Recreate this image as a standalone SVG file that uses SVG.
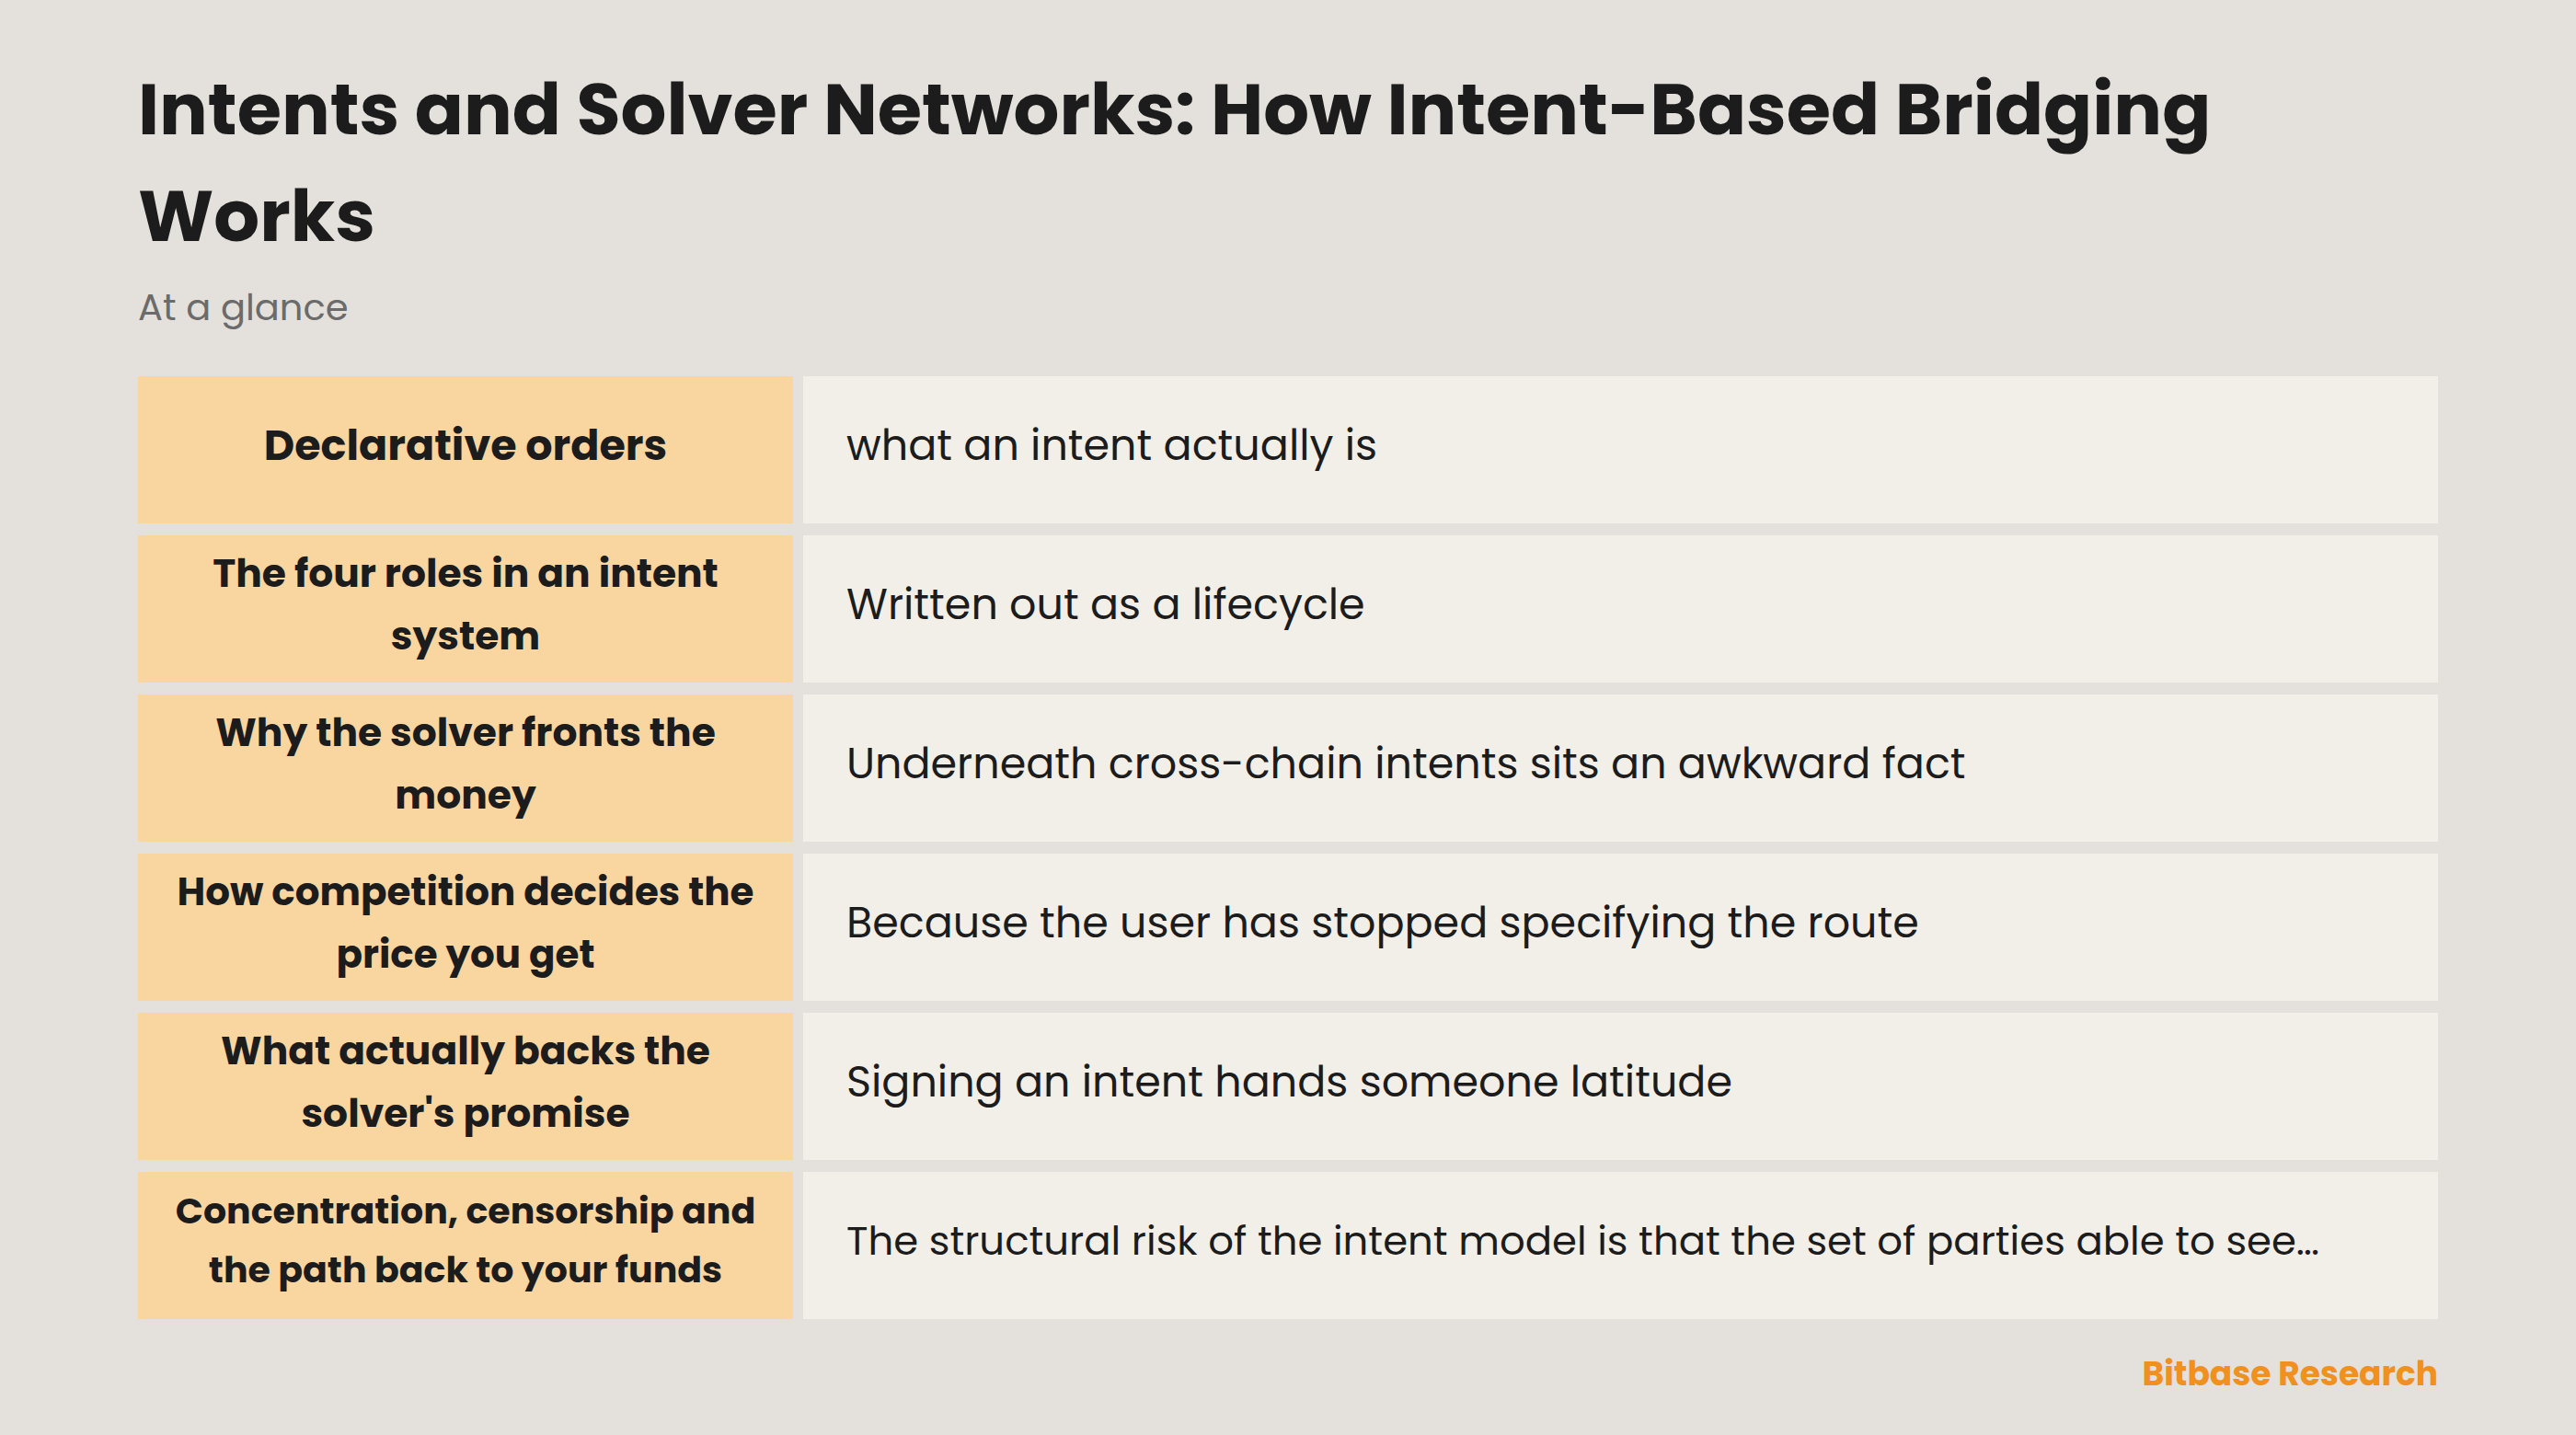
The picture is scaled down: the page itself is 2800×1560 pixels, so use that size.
<svg xmlns="http://www.w3.org/2000/svg" width="2800" height="1560" viewBox="0 0 2800 1560">
<style>
.t{font-family:Poppins,Inter,"Liberation Sans",sans-serif;font-weight:700;fill:#1c1c1c;font-size:78.3px}
.s{font-family:Poppins,Inter,"Liberation Sans",sans-serif;fill:#6b6b6b;font-size:40px}
.k{fill:#f9d59f}.v{fill:#f2efe9}
.kt{font-family:Poppins,Inter,"Liberation Sans",sans-serif;font-weight:700;fill:#1c1c1c;font-size:42.4px;text-anchor:middle}
.vt{font-family:Poppins,Inter,"Liberation Sans",sans-serif;fill:#1c1c1c;font-size:46px}
.f{font-family:Poppins,Inter,"Liberation Sans",sans-serif;font-weight:700;fill:#f0901e;font-size:36px;text-anchor:end}
</style>
<rect width="2800" height="1560" fill="#e4e0db"/>
<text class="t" x="150" y="146">Intents and Solver Networks: How Intent-Based Bridging</text>
<text class="t" x="150" y="262">Works</text>
<text class="s" x="150" y="348">At a glance</text>
<g id="row1"><rect class="k" x="150" y="409" width="712" height="160"/><rect class="v" x="873" y="409" width="1777" height="160"/>
<text class="kt" x="506" y="500" style="font-size:46px">Declarative orders</text><text class="vt" x="920" y="500">what an intent actually is</text></g>
<g id="row2"><rect class="k" x="150" y="582" width="712" height="160"/><rect class="v" x="873" y="582" width="1777" height="160"/>
<text class="kt" x="506" y="638">The four roles in an intent</text><text class="kt" x="506" y="706">system</text><text class="vt" x="920" y="673">Written out as a lifecycle</text></g>
<g id="row3"><rect class="k" x="150" y="755" width="712" height="160"/><rect class="v" x="873" y="755" width="1777" height="160"/>
<text class="kt" x="506" y="811">Why the solver fronts the</text><text class="kt" x="506" y="879">money</text><text class="vt" x="920" y="846">Underneath cross-chain intents sits an awkward fact</text></g>
<g id="row4"><rect class="k" x="150" y="928" width="712" height="160"/><rect class="v" x="873" y="928" width="1777" height="160"/>
<text class="kt" x="506" y="984" style="font-size:42px">How competition decides the</text><text class="kt" x="506" y="1052" style="font-size:42px">price you get</text><text class="vt" x="920" y="1019">Because the user has stopped specifying the route</text></g>
<g id="row5"><rect class="k" x="150" y="1101" width="712" height="160"/><rect class="v" x="873" y="1101" width="1777" height="160"/>
<text class="kt" x="506" y="1157">What actually backs the</text><text class="kt" x="506" y="1225">solver's promise</text><text class="vt" x="920" y="1192">Signing an intent hands someone latitude</text></g>
<g id="row6"><rect class="k" x="150" y="1274" width="712" height="160"/><rect class="v" x="873" y="1274" width="1777" height="160"/>
<text class="kt" x="506" y="1330" style="font-size:39.5px">Concentration, censorship and</text><text class="kt" x="506" y="1394" style="font-size:39.5px">the path back to your funds</text><text class="vt" x="920" y="1364" style="font-size:43.4px">The structural risk of the intent model is that the set of parties able to see…</text></g>
<text class="f" x="2650" y="1506">Bitbase Research</text>
</svg>
